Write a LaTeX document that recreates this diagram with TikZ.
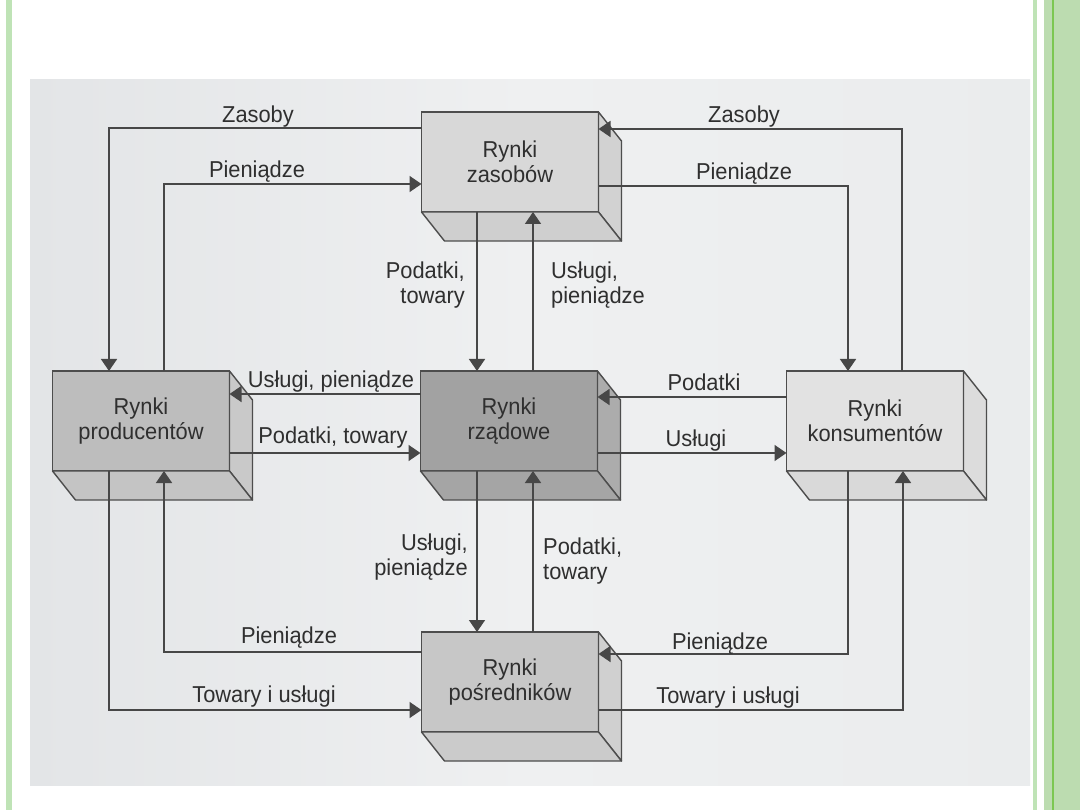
\documentclass[tikz,border=0pt]{standalone}
\usepackage{fontspec}
\setmainfont{Liberation Sans}[FakeStretch=0.95]
\usetikzlibrary{arrows.meta,calc}
\definecolor{scanA}{HTML}{E3E5E7}
\definecolor{scanB}{HTML}{EFF0F1}
\definecolor{scanC}{HTML}{EAECED}
\definecolor{lineclr}{HTML}{474747}
\definecolor{boxline}{HTML}{4D4D4D}
\definecolor{txt}{HTML}{2F2F2F}
\definecolor{zasF}{HTML}{D8D8D8}\definecolor{zasS}{HTML}{D2D2D2}\definecolor{zasB}{HTML}{CFCFCF}
\definecolor{prodF}{HTML}{BDBDBD}\definecolor{prodS}{HTML}{C9C9C9}\definecolor{prodB}{HTML}{C4C4C4}
\definecolor{rzadF}{HTML}{A2A2A2}\definecolor{rzadS}{HTML}{ACACAC}\definecolor{rzadB}{HTML}{A5A5A5}
\definecolor{konsF}{HTML}{E2E2E2}\definecolor{konsS}{HTML}{DCDCDC}\definecolor{konsB}{HTML}{D9D9D9}
\definecolor{posrF}{HTML}{C7C7C7}\definecolor{posrS}{HTML}{D0D0D0}\definecolor{posrB}{HTML}{CBCBCB}
\definecolor{greenlt}{HTML}{BFE3B6}
\definecolor{greenbd}{HTML}{BCDCB0}
\definecolor{greenln}{HTML}{7CC752}
\newcommand\mkfont{\fontsize{23}{25.5}\selectfont}
\begin{document}
\begin{tikzpicture}[x=1pt,y=-1pt,
  mkt/.style={draw=boxline, line width=1.4pt, minimum width=177pt, minimum height=100pt,
    inner sep=0pt, outer sep=0pt, align=center, text=txt, font=\mkfont},
  panel/.style={draw=boxline, line width=1.4pt, line join=round},
  lbl/.style={text=txt, font=\mkfont, inner sep=0pt},
  flow/.style={draw=lineclr, line width=1.6pt, -{Triangle[length=12pt,width=16pt]}}
]
\useasboundingbox (0,0) rectangle (1080,810);
\fill[white] (0,0) rectangle (1080,810);
\shade[left color=scanA, right color=scanC, middle color=scanB] (30,80) rectangle (1030,785);
% green frame
\fill[greenlt] (6,0) rectangle (12,810);
\fill[greenlt] (1033,0) rectangle (1037,810);
\fill[greenbd] (1044,0) rectangle (1080,810);
\fill[greenln] (1051.5,0) rectangle (1053.5,810);

% boxes
\node[mkt, fill=zasF]  (zas)  at (510,162) {Rynki\\zasobów};
\node[mkt, fill=prodF] (prod) at (141,421) {Rynki\\producentów};
\node[mkt, fill=rzadF] (rzad) at (509,421) {Rynki\\rządowe};
\node[mkt, fill=konsF] (kons) at (875,421) {Rynki\\konsumentów};
\node[mkt, fill=posrF] (posr) at (510,682) {Rynki\\pośredników};
\foreach \n/\cs/\cb in {zas/zasS/zasB, prod/prodS/prodB, rzad/rzadS/rzadB, kons/konsS/konsB, posr/posrS/posrB}{
  \filldraw[panel, fill=\cs] (\n.north east) -- ++(23,29) -- ++(0,100) -- (\n.south east) -- cycle;
  \filldraw[panel, fill=\cb] (\n.south west) -- ++(23,29) -- ($(\n.south east)+(23,29)$) -- (\n.south east) -- cycle;
}

% connectors
\draw[flow] (zas.west |- 0,128) -| (prod.north -| 109,0);
\draw[flow] (prod.north -| 164,0) |- (zas.west |- 0,184);
\draw[flow] (kons.north -| 902,0) |- (zas.east |- 0,129);
\draw[flow] (zas.east |- 0,186) -| (kons.north -| 848,0);
\draw[flow] (zas.south -| 477,0) -- (rzad.north -| 477,0);
\draw[flow] (rzad.north -| 533,0) -- (zas.south -| 533,0);
\draw[flow] (rzad.west |- 0,394) -- (prod.east |- 0,394);
\draw[flow] (prod.east |- 0,453) -- (rzad.west |- 0,453);
\draw[flow] (kons.west |- 0,397) -- (rzad.east |- 0,397);
\draw[flow] (rzad.east |- 0,453) -- (kons.west |- 0,453);
\draw[flow] (rzad.south -| 477,0) -- (posr.north -| 477,0);
\draw[flow] (posr.north -| 533,0) -- (rzad.south -| 533,0);
\draw[flow] (posr.west |- 0,652) -| (prod.south -| 164,0);
\draw[flow] (prod.south -| 109,0) |- (posr.west |- 0,710);
\draw[flow] (kons.south -| 848,0) |- (posr.east |- 0,654);
\draw[flow] (posr.east |- 0,710) -| (kons.south -| 903,0);

% labels
\node[lbl, anchor=base] (lZasL) at (258,123) {Zasoby};
\node[lbl, anchor=base] (lPieL) at (257,178) {Pieniądze};
\node[lbl, anchor=base] (lZasR) at (744,123) {Zasoby};
\node[lbl, anchor=base] (lPieR) at (744,180) {Pieniądze};
\node[lbl, align=right, anchor=east] (lPTt) at (465,285) {Podatki,\\towary};
\node[lbl, align=left, anchor=west] (lUPt) at (551,285) {Usługi,\\pieniądze};
\node[lbl, anchor=base] (lUPm) at (331,388) {Usługi, pieniądze};
\node[lbl, anchor=base] (lPTm) at (333,443) {Podatki, towary};
\node[lbl, anchor=base] (lPod) at (704,391) {Podatki};
\node[lbl, anchor=base] (lUsl) at (696,447) {Usługi};
\node[lbl, align=right, anchor=east] (lUPb) at (468,557) {Usługi,\\pieniądze};
\node[lbl, align=left, anchor=west] (lPTb) at (543,561) {Podatki,\\towary};
\node[lbl, anchor=base] (lPieBL) at (289,643) {Pieniądze};
\node[lbl, anchor=base] (lTowBL) at (264,702) {Towary i usługi};
\node[lbl, anchor=base] (lPieBR) at (720,649) {Pieniądze};
\node[lbl, anchor=base] (lTowBR) at (728,703) {Towary i usługi};
\end{tikzpicture}
\end{document}
